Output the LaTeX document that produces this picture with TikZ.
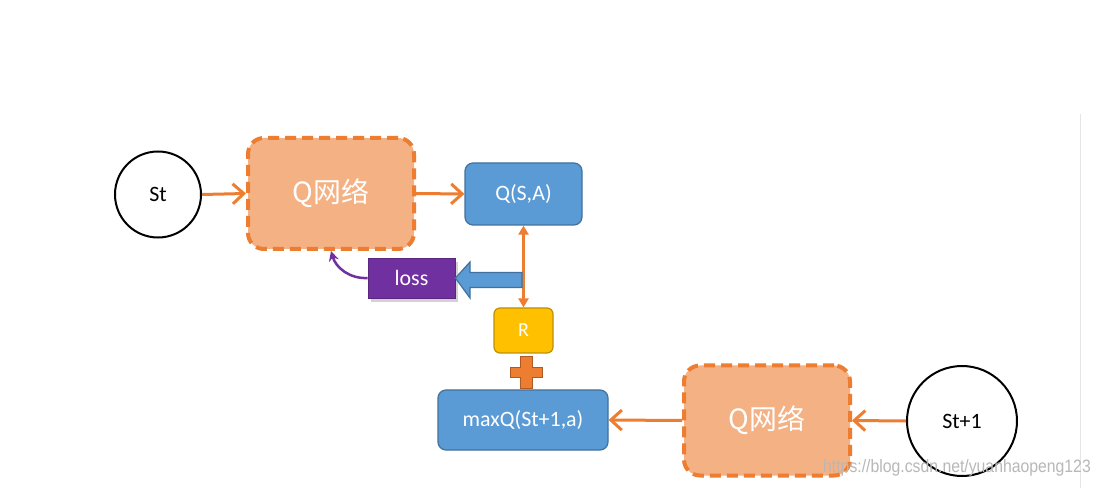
\documentclass[tikz,border=0pt]{standalone}
\usepackage{fontspec}
\setmainfont{Carlito}
\newfontfamily\cjk{Noto Sans CJK SC}
\newfontfamily\wmfont{Liberation Sans}
\usetikzlibrary{arrows.meta,shadows}
\definecolor{qorange}{HTML}{ED7D31}
\definecolor{qfill}{HTML}{F4B183}
\definecolor{qblue}{HTML}{5B9BD5}
\definecolor{qblueline}{HTML}{41719C}
\definecolor{qpurple}{HTML}{7030A0}
\definecolor{qyellow}{HTML}{FFC000}
\definecolor{qyellowline}{HTML}{BF9000}
\definecolor{qplusline}{HTML}{AE5A21}
\tikzset{
  statenode/.style={circle, draw=black, line width=2bp, fill=white, text=black,
    font=\fontsize{22}{26}\selectfont},
  qnet/.style={rectangle, rounded corners=16bp, draw=qorange, fill=qfill,
    line width=4bp, dash pattern=on 11bp off 6bp, text=white,
    font=\cjk\fontsize{28}{32}\selectfont, minimum width=166bp, minimum height=111bp},
  bluebox/.style={rectangle, rounded corners=8bp, draw=qblueline, fill=qblue,
    line width=1.2bp, text=white, font=\fontsize{22}{26}\selectfont},
  flow/.style={draw=qorange, line width=3bp, -{Straight Barb[length=11bp,width=20bp]}},
  dbl/.style={draw=qorange, line width=2.2bp, {Triangle[length=9bp,width=10bp]}-{Triangle[length=9bp,width=10bp]}},
}
\begin{document}
\begin{tikzpicture}[x=1bp,y=-1bp]
\useasboundingbox[fill=white] (0,0) rectangle (1102,488);
% faint screenshot edge line
\draw[line width=1bp, black!10] (1080,114) -- (1080,488);

\node[statenode, minimum size=86bp] (st) at (158,194.5) {St};
\node[qnet] (q1) at (331,193.5) {Q网络};
\node[bluebox, minimum width=117bp, minimum height=62bp] (qsa) at (523.5,194) {Q(S,A)};
\node[rectangle, fill=qpurple, draw=qpurple!80!black, line width=0.8bp, text=white,
  minimum width=87bp, minimum height=40bp, font=\fontsize{22}{26}\selectfont,
  drop shadow={opacity=0.35, shadow xshift=3bp, shadow yshift=-4bp}] (loss) at (411.5,278) {loss};
\node[rectangle, rounded corners=6bp, draw=qyellowline, fill=qyellow, line width=1.2bp,
  text=white, minimum width=59bp, minimum height=45bp, font=\fontsize{20}{24}\selectfont] (r) at (523.5,330.5) {R};
\node[bluebox, minimum width=170bp, minimum height=60bp] (maxq) at (523,420) {maxQ(St+1,a)};
\node[qnet, minimum height=110bp] (q2) at (767,420.5) {Q网络};
\node[statenode, minimum size=110bp] (st1) at (962,421) {St+1};

% flows
\draw[flow] (st.east) -- (q1.west);
\draw[flow] (q1.east) -- (qsa.west);
\draw[flow] (st1.west) -- (q2.east);
\draw[flow] (q2.west) -- (maxq.east);
\draw[dbl] (qsa.south) -- (r.north);

% blue block arrow to loss
\coordinate (ba) at (522,280);
\fill[qblue, draw=qblueline, line width=1.2bp]
  ([yshift=7.5bp]ba) -- (470,272.5) -- (470,262) -- (loss.east) -- (470,298)
  -- (470,287.5) -- ([yshift=-7.5bp]ba) -- cycle;

% purple curved arrow
\draw[qpurple, line width=2.5bp, -{Stealth[length=10bp,width=10bp]}]
  (loss.west) .. controls (350,279) and (336,268) .. (331,251);

% plus sign
\coordinate (pc) at (526,372.5);
\fill[qorange, draw=qplusline, line width=1bp]
  ([shift={(-6,-15.5)}]pc) -- ([shift={(6,-15.5)}]pc) -- ([shift={(6,-5)}]pc)
  -- ([shift={(16,-5)}]pc) -- ([shift={(16,5)}]pc) -- ([shift={(6,5)}]pc)
  -- ([shift={(6,15.5)}]pc) -- ([shift={(-6,15.5)}]pc) -- ([shift={(-6,5)}]pc)
  -- ([shift={(-16,5)}]pc) -- ([shift={(-16,-5)}]pc) -- ([shift={(-6,-5)}]pc) -- cycle;

% watermark
\node[text=black!28, font=\wmfont\fontsize{18}{20}\selectfont, xscale=0.88, inner sep=0pt] (wm) at (957,468) {https://blog.csdn.net/yuanhaopeng123};
\end{tikzpicture}
\end{document}
